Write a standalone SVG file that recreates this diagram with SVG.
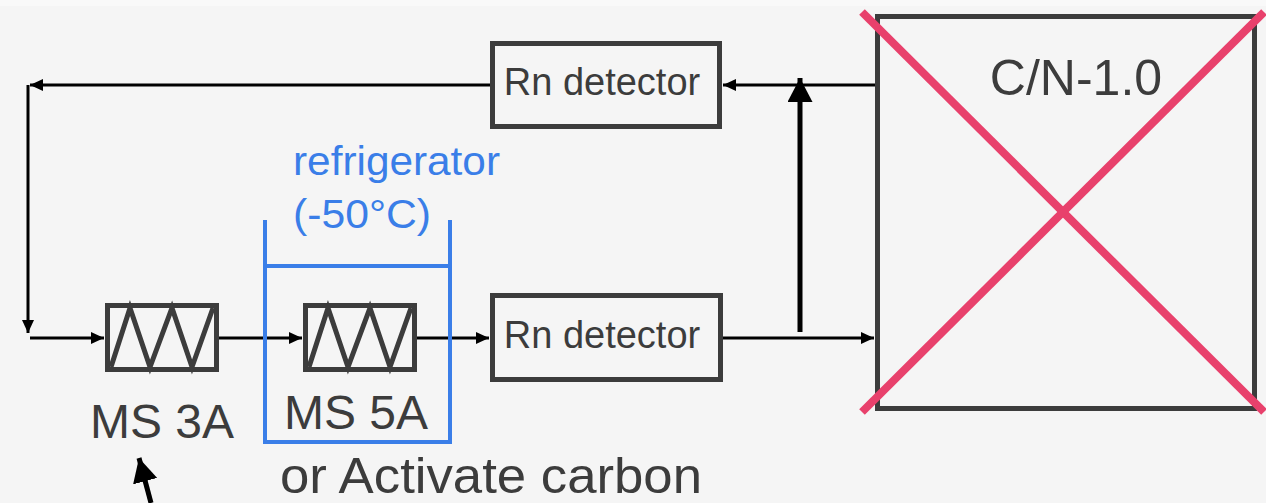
<svg xmlns="http://www.w3.org/2000/svg" width="1266" height="503" viewBox="0 0 1266 503">
  <style>
    .box { fill: none; stroke: #3c3c3c; stroke-width: 5; }
    .zig { fill: none; stroke: #3c3c3c; stroke-width: 5; stroke-linejoin: miter; }
    .lbl { font-family: "Liberation Sans", Arial, sans-serif; fill: #3c3c3c; }
    .blue { font-family: "Liberation Sans", Arial, sans-serif; fill: #3a7ee8; }
    .conn { fill: none; stroke: #000; stroke-width: 3; }
    .thick { fill: none; stroke: #000; stroke-width: 5; }
    .bl { fill: none; stroke: #3a7ee8; stroke-width: 4; }
    .red { fill: none; stroke: #e8416c; stroke-width: 8; }
  </style>
  <defs>
    <marker id="arr" markerUnits="userSpaceOnUse" viewBox="0 0 13 12" refX="13" refY="6" markerWidth="13" markerHeight="12" orient="auto">
      <path d="M0,0 L13,6 L0,12 z" fill="#000"/>
    </marker>
    <marker id="big" markerUnits="userSpaceOnUse" viewBox="0 0 24 25" refX="24" refY="12.5" markerWidth="24" markerHeight="25" orient="auto">
      <path d="M0,0 L24,12.5 L0,25 z" fill="#000"/>
    </marker>
  </defs>
  <rect x="0" y="0" width="1266" height="503" fill="#f5f5f5"/>
  <rect x="0" y="0" width="1266" height="6" fill="#f9f9f9"/>

  <g id="connectors">
    <line class="conn" x1="490" y1="85" x2="30" y2="85" marker-end="url(#arr)"/>
    <line class="conn" x1="28" y1="85" x2="28" y2="333" marker-end="url(#arr)"/>
    <line class="conn" x1="30" y1="338" x2="104" y2="338" marker-end="url(#arr)"/>
    <line class="conn" x1="219" y1="338" x2="302" y2="338" marker-end="url(#arr)"/>
    <line class="conn" x1="417" y1="338" x2="489" y2="338" marker-end="url(#arr)"/>
    <line class="conn" x1="723" y1="338" x2="874" y2="338" marker-end="url(#arr)"/>
    <line class="conn" x1="875" y1="85" x2="723" y2="85" marker-end="url(#arr)"/>
    <line class="thick" x1="800" y1="332" x2="800" y2="78" marker-end="url(#big)"/>
    <line class="thick" x1="151" y1="503" x2="139" y2="458" marker-end="url(#big)"/>
  </g>

  <g id="refrigerator">
    <path class="bl" d="M265,220 V442 H450 V220"/>
    <line class="bl" x1="265" y1="266" x2="450" y2="266"/>
    <text class="blue" x="293" y="175" font-size="40" textLength="207" lengthAdjust="spacingAndGlyphs">refrigerator</text>
    <text class="blue" x="293" y="228" font-size="40" textLength="138" lengthAdjust="spacingAndGlyphs">(-50°C)</text>
  </g>

  <g id="ms3a">
    <rect class="box" x="107.5" y="305.5" width="109" height="64"/>
    <polyline class="zig" points="111,367 130,308 150,367 172,308 192,367 213,308"/>
    <text class="lbl" x="162" y="438" font-size="48" text-anchor="middle">MS 3A</text>
  </g>

  <g id="ms5a">
    <rect class="box" x="305.5" y="305.5" width="109" height="64"/>
    <polyline class="zig" points="309,367 328,308 348,367 370,308 390,367 411,308"/>
    <text class="lbl" x="356" y="429" font-size="48" text-anchor="middle">MS 5A</text>
  </g>

  <g id="activated-carbon">
    <text class="lbl" x="280" y="493" font-size="50" textLength="422" lengthAdjust="spacingAndGlyphs">or Activate carbon</text>
  </g>

  <g id="rn-top">
    <rect class="box" x="492.5" y="43.5" width="227" height="83"/>
    <text class="lbl" x="602" y="95" font-size="38" text-anchor="middle">Rn detector</text>
  </g>

  <g id="rn-bottom">
    <rect class="box" x="492.5" y="295.5" width="228" height="84"/>
    <text class="lbl" x="602" y="348" font-size="38" text-anchor="middle">Rn detector</text>
  </g>

  <g id="cn">
    <rect class="box" x="877.5" y="16.5" width="377" height="392"/>
    <text class="lbl" x="1076" y="95" font-size="50" text-anchor="middle">C/N-1.0</text>
    <line class="red" x1="862" y1="12" x2="1264" y2="412"/>
    <line class="red" x1="862" y1="412" x2="1264" y2="12"/>
  </g>
</svg>
